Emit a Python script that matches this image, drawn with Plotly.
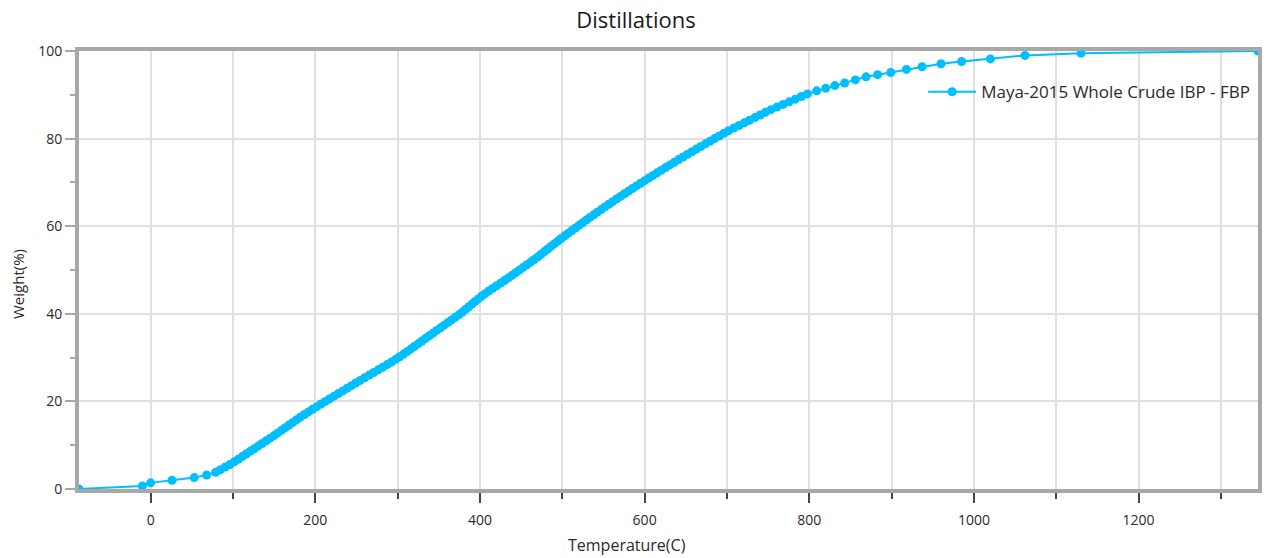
import plotly.graph_objects as go

# Distillation curve: Temperature (C) vs cumulative Weight (%)
temperature = [
    -87, -10, 0, 26, 53, 68,
    79, 84.7, 90.5, 96.3,
    101.6, 106.5, 111.3, 116.1, 121.0, 125.8, 130.6, 135.5, 140.3, 145.2,
    150.0, 154.5, 159.1, 163.6, 168.1, 172.7, 177.2,
    181.8, 186.8, 191.7, 196.7,
    201.8, 207.0, 212.3, 217.5, 222.8, 228.1, 233.3, 238.6, 243.9, 249.1,
    254.5, 260.0, 265.5, 270.9, 276.4, 281.8, 287.3, 292.5, 297.6,
    302.5, 307.2, 311.8, 316.3, 320.7, 325.2, 329.6, 334.1, 338.5,
    343.0, 347.5, 352.0, 356.5, 361.0, 365.5, 370.0, 374.5,
    378.7, 382.6, 386.4, 390.2, 394.0, 397.9,
    401.9, 406.2, 410.7, 415.4, 420.2, 425.0, 429.8,
    434.4, 439.0, 443.5, 448.0, 452.5, 457.0, 461.5, 466.0, 470.4,
    474.3, 478.3, 482.3, 486.4, 490.5, 494.6, 498.8,
    503.0, 507.3, 511.6, 515.9, 520.3, 524.7, 529.1, 533.6, 538.1, 542.6, 547.2,
    551.8, 556.5, 561.2, 565.9, 570.7,
    575.5, 580.3, 585.2, 590.1, 595.1, 600.1,
    605.1, 610.2, 615.3, 620.4, 625.6, 630.8, 636.0, 641.3, 646.6, 652.0,
    657.4, 662.8, 668.3, 673.8, 679.4, 684.9, 690.6, 696.2,
    701.9, 708.3, 714.7, 721.1, 727.5, 733.9, 740.3, 746.7,
    753.5, 760.8, 768.2, 775.6, 783.0, 790.4, 797.8,
    809, 820, 831, 843, 856, 869, 883, 899, 918, 937, 960, 985, 1020, 1062, 1130, 1345,
]
weight = [
    0.0, 0.7, 1.4, 2.0, 2.6, 3.2,
    3.8, 4.4, 5.0, 5.6,
    6.2, 6.8, 7.4, 8.0, 8.6, 9.2, 9.8, 10.4, 11.0, 11.6,
    12.2, 12.8, 13.4, 14.0, 14.6, 15.2, 15.8,
    16.4, 17.0, 17.6, 18.2,
    18.8, 19.4, 20.0, 20.6, 21.2, 21.8, 22.4, 23.0, 23.6, 24.2,
    24.8, 25.4, 26.0, 26.6, 27.2, 27.8, 28.4, 29.0, 29.6,
    30.2, 30.8, 31.4, 32.0, 32.6, 33.2, 33.8, 34.4, 35.0,
    35.6, 36.2, 36.8, 37.4, 38.0, 38.6, 39.2, 39.8,
    40.4, 41.0, 41.6, 42.2, 42.8, 43.4,
    44.0, 44.6, 45.2, 45.8, 46.4, 47.0, 47.6,
    48.2, 48.8, 49.4, 50.0, 50.6, 51.2, 51.8, 52.4, 53.0,
    53.6, 54.2, 54.8, 55.4, 56.0, 56.6, 57.2,
    57.8, 58.4, 59.0, 59.6, 60.2, 60.8, 61.4, 62.0, 62.6, 63.2, 63.8,
    64.4, 65.0, 65.6, 66.2, 66.8,
    67.4, 68.0, 68.6, 69.2, 69.8, 70.4,
    71.0, 71.6, 72.2, 72.8, 73.4, 74.0, 74.6, 75.2, 75.8, 76.4,
    77.0, 77.6, 78.2, 78.8, 79.4, 80.0, 80.6, 81.2,
    81.8, 82.4, 83.0, 83.6, 84.2, 84.8, 85.4, 86.0,
    86.6, 87.2, 87.8, 88.4, 89.0, 89.6, 90.2,
    90.9, 91.5, 92.1, 92.7, 93.4, 94.1, 94.6, 95.1, 95.8, 96.4, 97.1, 97.6, 98.2, 99.0, 99.5, 100.0,
]
series_name = "Maya-2015 Whole Crude IBP - FBP"
chart_title = "Distillations"
x_title = "Temperature(C)"
y_title = "Weight(%)"

BLUE = "#00BFFF"
FRAME = "#a8a8a8"
GRID = "#e0e0e0"
FONT = "Open Sans, Noto Sans, sans-serif"
TEXT = "#2b2b2b"

fig = go.Figure()
fig.add_trace(go.Scatter(
    x=temperature, y=weight, mode="lines+markers", name=series_name,
    line=dict(color=BLUE, width=2),
    marker=dict(color=BLUE, size=9, line=dict(width=0)),
    showlegend=True,
))

fig.update_layout(
    width=1266, height=558,
    margin=dict(l=79, r=8, t=51, b=69, autoexpand=False),
    paper_bgcolor="white", plot_bgcolor="white",
    font=dict(family=FONT, size=14, color=TEXT),
    title=dict(text=chart_title, x=636 / 1266, xanchor="center", y=1 - 20 / 558, yanchor="middle",
               font=dict(size=22, color="#1a1a1a", family=FONT)),
    showlegend=True,
    legend=dict(x=0.716, xanchor="left", y=0.906, yanchor="middle",
                bgcolor="rgba(0,0,0,0)", borderwidth=0, itemwidth=48,
                font=dict(size=17, color=TEXT, family=FONT)),
    annotations=[
        dict(text=x_title, xref="paper", yref="paper",
             x=(627 - 79) / 1179, y=-(545 - 489) / 438, xanchor="center", yanchor="middle",
             showarrow=False, font=dict(size=16, color=TEXT, family=FONT)),
        dict(text=y_title, xref="paper", yref="paper", textangle=-90,
             x=-(79 - 18) / 1179, y=(489 - 284) / 438, xanchor="center", yanchor="middle",
             showarrow=False, font=dict(size=15, color=TEXT, family=FONT)),
    ],
)

fig.update_xaxes(
    range=[min(temperature), max(temperature)],
    tick0=0, dtick=200, ticks="outside", ticklen=10, tickwidth=2, tickcolor="#444444",
    showgrid=True, gridcolor=GRID, gridwidth=2,
    minor=dict(tick0=0, dtick=100, ticks="outside", ticklen=6, tickwidth=2,
               tickcolor="#444444", showgrid=True, gridcolor=GRID, gridwidth=2),
    showline=True, linecolor=FRAME, linewidth=4, mirror=True,
    zeroline=False, tickfont=dict(size=14, color=TEXT), ticklabelstandoff=5,
)
fig.update_yaxes(
    range=[0, 100],
    tick0=0, dtick=20, ticks="outside", ticklen=10, tickwidth=2, tickcolor=FRAME,
    showgrid=True, gridcolor=GRID, gridwidth=2,
    minor=dict(tick0=0, dtick=10, ticks="outside", ticklen=5, tickwidth=2,
               tickcolor=FRAME, showgrid=False),
    showline=True, linecolor=FRAME, linewidth=4, mirror=True,
    zeroline=False, tickfont=dict(size=14, color=TEXT),
)

fig.write_html("out.html", config={"displayModeBar": False},
               post_script="document.body.style.margin='0';")
